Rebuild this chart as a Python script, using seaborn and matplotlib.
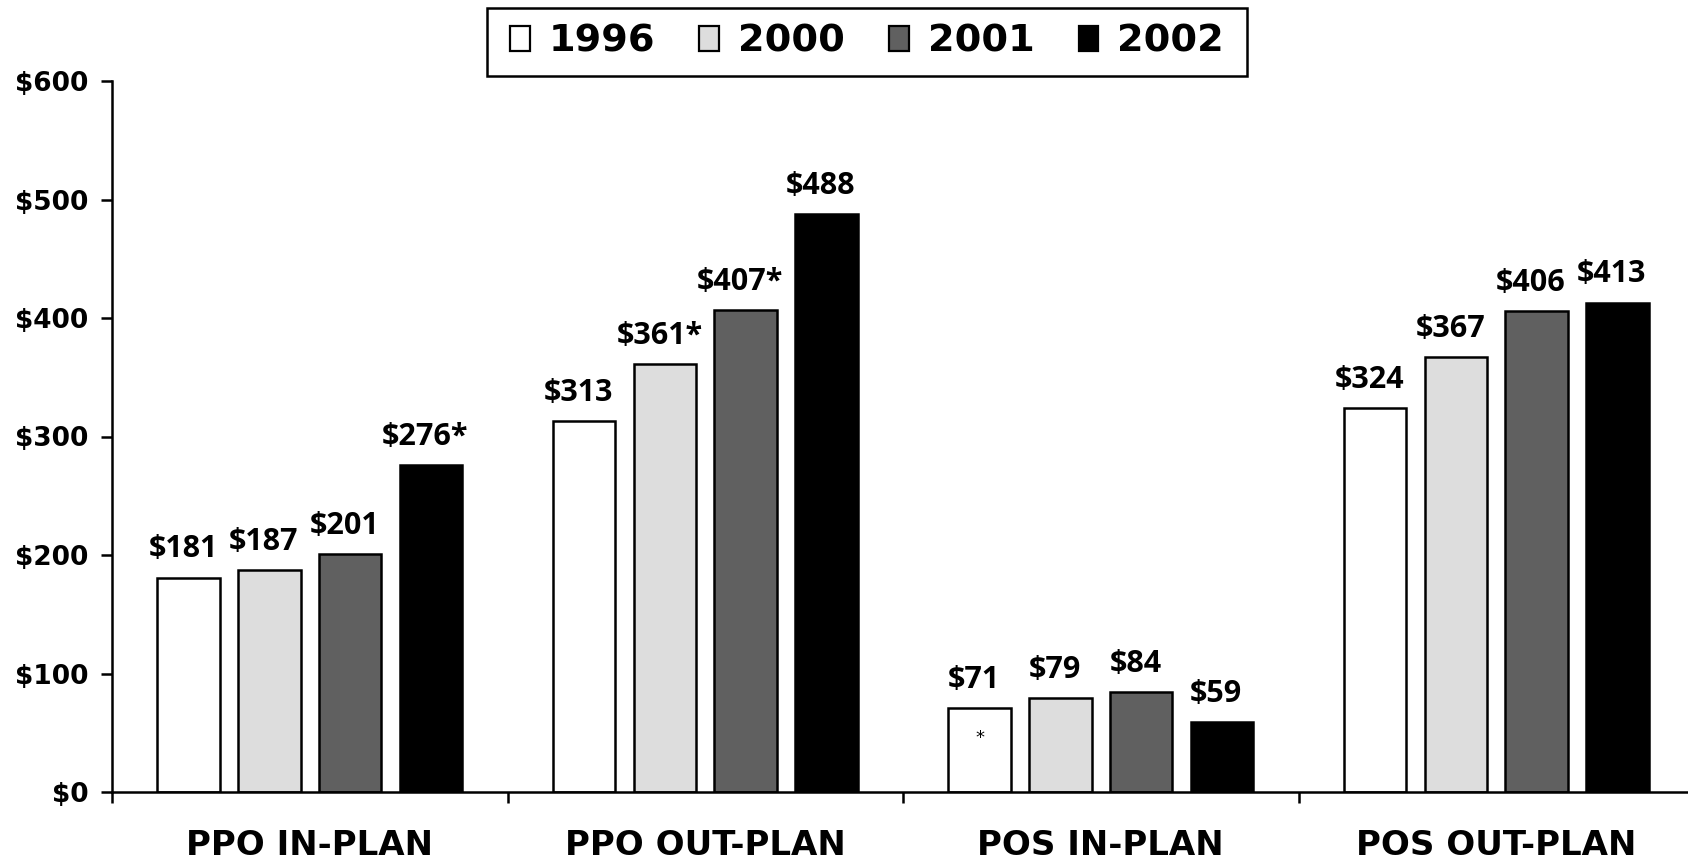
import matplotlib
matplotlib.use("Agg")
import matplotlib.pyplot as plt
import matplotlib.patches as mpatches
import seaborn as sns
import pandas as pd
import numpy as np

categories = ["PPO IN-PLAN", "PPO OUT-PLAN", "POS IN-PLAN", "POS OUT-PLAN"]
years = ["1996", "2000", "2001", "2002"]
values_1996 = [181, 313, 71, 324]
values_2000 = [187, 361, 79, 367]
values_2001 = [201, 407, 84, 406]
values_2002 = [276, 488, 59, 413]
labels_1996 = ["$181", "$313", "$71", "$324"]
labels_2000 = ["$187", "$361*", "$79", "$367"]
labels_2001 = ["$201", "$407*", "$84", "$406"]
labels_2002 = ["$276*", "$488", "$59", "$413"]
yticks = [0, 100, 200, 300, 400, 500, 600]
ytick_labels = ["$0", "$100", "$200", "$300", "$400", "$500", "$600"]
colors = ["#ffffff", "#dddddd", "#606060", "#000000"]

series = [values_1996, values_2000, values_2001, values_2002]
label_sets = [labels_1996, labels_2000, labels_2001, labels_2002]

rows = []
for yr, vals in zip(years, series):
    for cat, v in zip(categories, vals):
        rows.append({"category": cat, "year": yr, "value": v})
df = pd.DataFrame(rows)

sns.set_style("white")
plt.rcParams["font.family"] = ["DejaVu Sans"]
plt.rcParams["text.color"] = "black"
plt.rcParams["xtick.color"] = "black"
plt.rcParams["ytick.color"] = "black"
plt.rcParams["axes.edgecolor"] = "black"
plt.rcParams["axes.labelcolor"] = "black"

W, H = 1688, 859
fig = plt.figure(figsize=(W / 100, H / 100), dpi=100)
ax = fig.add_axes([112 / W, 1 - 792 / H, 1582 / W, (792 - 81) / H])

sns.barplot(data=df, x="category", y="value", hue="year", hue_order=years,
            order=categories, palette=colors, edgecolor="black", linewidth=1.8,
            width=0.816, gap=0.225, legend=False, ax=ax, saturation=1)

ax.set_xlim(-0.5, 3.5)
ax.set_ylim(0, 600)
ax.set_xlabel("")
ax.set_ylabel("")

for spine in ["top", "right"]:
    ax.spines[spine].set_visible(False)
for spine in ["left", "bottom"]:
    ax.spines[spine].set_linewidth(1.8)
    ax.spines[spine].set_color("black")

ax.set_yticks(yticks)
ax.set_yticklabels(ytick_labels, fontsize=19, fontweight="bold", family="DejaVu Sans")
ax.tick_params(axis="y", direction="out", length=8, width=1.8, pad=9, left=True, colors="black")

ax.set_xticks(range(len(categories)))
ax.set_xticklabels(categories, fontsize=24.5, fontweight="bold", family="DejaVu Sans")
ax.tick_params(axis="x", which="major", length=0, pad=26.5)
ax.set_xticks([-0.5, 0.5, 1.5, 2.5, 3.5], minor=True)
ax.tick_params(axis="x", which="minor", direction="out", length=8, width=1.8, bottom=True)

# value labels above bars (slightly left of centre, as in the original)
for cont, labs in zip(ax.containers, label_sets):
    for rect, lab in zip(cont, labs):
        ax.annotate(lab, (rect.get_x() + rect.get_width() / 2, rect.get_height()),
                    xytext=(-4, 14.5), textcoords="offset points",
                    ha="center", va="baseline", fontsize=22, fontweight="bold",
                    family="Open Sans", color="black")

# small asterisk inside the POS IN-PLAN 1996 bar
bar = ax.containers[0][2]
ax.text(bar.get_x() + bar.get_width() / 2, bar.get_height() * 0.64, "*",
        ha="center", va="center", fontsize=13, family="DejaVu Sans", color="black")

handles = [mpatches.Patch(facecolor=c, edgecolor="black", linewidth=1.6) for c in colors]
leg = fig.legend(handles, years, loc="center", bbox_to_anchor=(867 / W, 1 - 42 / H), ncol=4,
                 frameon=False,
                 prop={"family": "DejaVu Sans", "weight": "bold", "size": 27.5},
                 handlelength=0.52, handleheight=0.63, handletextpad=0.5,
                 columnspacing=1.15, borderpad=0.42)

fig.canvas.draw()
bb = leg.get_window_extent()
extra = 7
frame = mpatches.Rectangle(((bb.x0 - extra) / W, bb.y0 / H), (bb.width + 2 * extra) / W,
                           bb.height / H, transform=fig.transFigure, fill=False,
                           edgecolor="black", linewidth=1.8)
fig.add_artist(frame)

fig.savefig("out.png", dpi=100)
